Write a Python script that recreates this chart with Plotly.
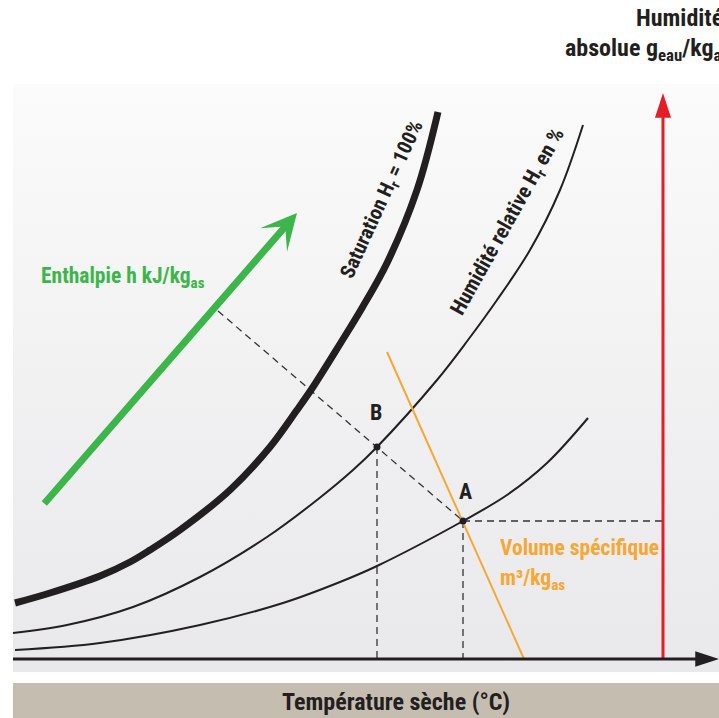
import plotly.graph_objects as go

# ---- data (diagram units: x = temperature, y = absolute humidity) ----
sat_t = [2, 37, 87, 117, 137, 167, 217, 257, 284, 300, 327, 349, 374, 404, 425]
sat_w = [56, 66, 83, 97, 109, 129, 169, 212, 249, 272, 315, 351, 396, 469, 547]

hr_t = [0, 54, 120, 187, 254, 304, 340, 364, 424, 455, 484, 517, 547, 570]
hr_w = [26, 34, 52, 82, 122, 159, 189, 212, 279, 319, 359, 409, 469, 534]

low_t = [2, 87, 187, 270, 327, 364, 450, 494, 534, 575]
low_w = [9, 16, 34, 56, 77, 93, 138, 164, 196, 241]

point_names = ["A", "B"]
point_t = [450, 364]
point_w = [138, 212]

enth_t = [205, 450]          # enthalpy line (dashed) through B to A
enth_w = [348, 138]
vol_t = [374, 511]           # specific volume line (orange)
vol_w = [307, 0]
green_tail = (30, 154)
green_tip = (284, 446)
red_t = 650
red_w = [0, 566]
axis_t = [0, 706]

panel_t = [0, 706, 706, 0, 0]
panel_w = [-13, -13, 575, 575, -13]

FONT = "Liberation Sans Narrow, Roboto Condensed, DejaVu Sans Condensed, Arial Narrow, sans-serif"
DARK = "#231f20"
GREEN = "#3cb54a"
ORANGE = "#f7a734"
RED = "#e41e26"

fig = go.Figure()

# background panel with vertical gradient
fig.add_trace(go.Scatter(
    x=panel_t, y=panel_w, mode="lines", fill="toself",
    line=dict(width=0, color="rgba(0,0,0,0)"),
    fillgradient=dict(type="vertical",
                      colorscale=[[0, "#e9e9ec"], [0.5, "#f1f1f2"], [1, "#fbfbfb"]]),
    hoverinfo="skip", showlegend=False))

dash = "7px,5px"
# dashed helper lines
fig.add_trace(go.Scatter(x=enth_t, y=enth_w, mode="lines",
                         line=dict(color="#333333", width=1.3, dash=dash), showlegend=False))
fig.add_trace(go.Scatter(x=[point_t[1], point_t[1]], y=[point_w[1], 0], mode="lines",
                         line=dict(color="#333333", width=1.3, dash=dash), showlegend=False))
fig.add_trace(go.Scatter(x=[point_t[0], point_t[0]], y=[point_w[0], 0], mode="lines",
                         line=dict(color="#333333", width=1.3, dash=dash), showlegend=False))
fig.add_trace(go.Scatter(x=[point_t[0], red_t], y=[point_w[0], point_w[0]], mode="lines",
                         line=dict(color="#333333", width=1.3, dash=dash), showlegend=False))

# curves
fig.add_trace(go.Scatter(x=low_t, y=low_w, mode="lines", line=dict(color=DARK, width=2, shape="spline"),
                         showlegend=False))
fig.add_trace(go.Scatter(x=hr_t, y=hr_w, mode="lines", line=dict(color=DARK, width=2, shape="spline"),
                         showlegend=False))
fig.add_trace(go.Scatter(x=sat_t, y=sat_w, mode="lines", line=dict(color=DARK, width=7, shape="spline"),
                         showlegend=False))

# specific volume line
fig.add_trace(go.Scatter(x=vol_t, y=vol_w, mode="lines", line=dict(color=ORANGE, width=2),
                         showlegend=False))

# red vertical axis (absolute humidity)
fig.add_trace(go.Scatter(x=[red_t, red_t], y=[red_w[0], red_w[1] - 20], mode="lines",
                         line=dict(color=RED, width=3), showlegend=False))
fig.add_trace(go.Scatter(x=[red_t], y=[red_w[1]], mode="markers",
                         marker=dict(symbol="arrow", size=26, angle=0, color=RED,
                                     line=dict(width=0)), showlegend=False))

# horizontal temperature axis
fig.add_trace(go.Scatter(x=[axis_t[0], axis_t[1] - 20], y=[0, 0], mode="lines",
                         line=dict(color=DARK, width=3), showlegend=False))
fig.add_trace(go.Scatter(x=[axis_t[1]], y=[0], mode="markers",
                         marker=dict(symbol="arrow", size=25, angle=90, color=DARK,
                                     line=dict(width=0)), showlegend=False))

# points A and B
fig.add_trace(go.Scatter(x=point_t, y=point_w, mode="markers",
                         marker=dict(color=DARK, size=7), showlegend=False))

# green enthalpy arrow
fig.add_annotation(x=green_tip[0], y=green_tip[1], ax=green_tail[0], ay=green_tail[1],
                   xref="x", yref="y", axref="x", ayref="y", text="",
                   showarrow=True, arrowhead=3, arrowsize=0.85, arrowwidth=7,
                   arrowcolor=GREEN, standoff=0)

def label(x, y, text, color=DARK, size=21, xanchor="center", angle=0):
    fig.add_annotation(x=x, y=y, xref="x", yref="y", text=text, showarrow=False,
                       xanchor=xanchor, yanchor="middle", textangle=angle,
                       font=dict(family=FONT, size=size, color=color, weight="bold"))

label(621, 641, "Humidité", size=24, xanchor="left")
label(550, 610, "absolue g<sub>eau</sub>/kg<sub>as</sub>", size=24, xanchor="left")
label(369, 459, "Saturation H<sub>r</sub> = 100%", size=20.5, angle=-65.5)
label(495, 437, "Humidité relative H<sub>r</sub> en %", size=21, angle=-60.8)
label(26, 382, "Enthalpie h kJ/kg<sub>as</sub>", color=GREEN, size=21.5, xanchor="left")
label(363, 247, point_names[1], size=22)
label(452, 168, point_names[0], size=22)
label(485, 112, "Volume spécifique", color=ORANGE, size=21.5, xanchor="left")
label(485, 80, "m³/kg<sub>as</sub>", color=ORANGE, size=21.5, xanchor="left")

# bottom title bar
fig.add_shape(type="rect", xref="x", yref="y", x0=0, x1=706, y0=-24, y1=-59,
              fillcolor="#c6bdb1", line=dict(width=0), layer="below")
label(383, -43, "Température sèche (°C)", size=24)

fig.update_layout(
    width=719, height=718,
    margin=dict(l=0, r=0, t=0, b=0),
    paper_bgcolor="white", plot_bgcolor="white",
    xaxis=dict(range=[-13, 706], visible=False, fixedrange=True),
    yaxis=dict(range=[-59, 659], visible=False, fixedrange=True),
    showlegend=False,
)

fig.write_html("out.html", config={"displayModeBar": False},
               post_script="document.body.style.margin='0';document.body.style.padding='0';")
